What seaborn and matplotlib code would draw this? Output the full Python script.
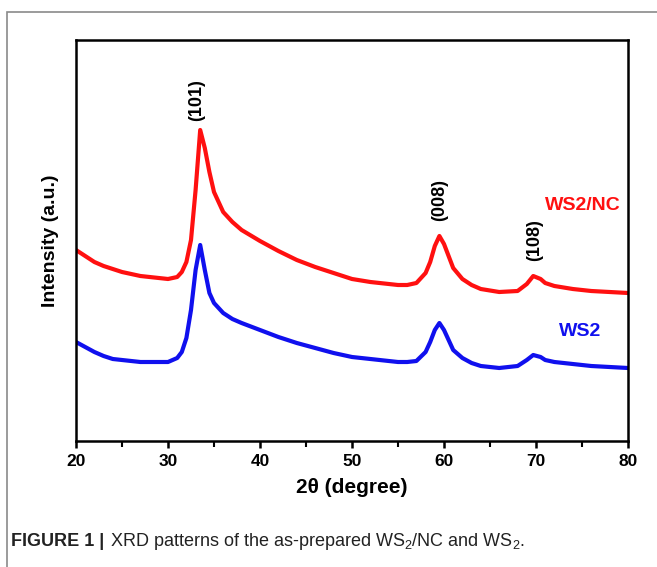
import pandas as pd
import matplotlib.pyplot as plt
import matplotlib.patches as mpatches
from matplotlib.ticker import MultipleLocator
import seaborn as sns

# 2theta positions (degree)
two_theta = [20, 21, 22, 23, 24, 25, 26, 27, 28, 29, 30, 31,
             31.5, 32, 32.5, 33, 33.5, 34, 34.5, 35,
             36, 37, 38,
             40, 42, 44, 46, 48, 50, 52, 54,
             55, 56, 57, 58,
             58.5, 59, 59.5, 60, 60.5, 61,
             62, 63, 64,
             66, 68, 69, 69.7, 70.5, 71, 72,
             74, 76, 78, 80]

# intensities (a.u., offset already included)
ws2_nc = [197, 191, 185, 181, 178, 175, 173, 171, 170, 169, 168, 170,
          175, 185, 207, 257, 317, 299, 275, 255,
          235, 225, 217,
          206, 196, 187, 180, 174, 168, 165, 163,
          162, 162, 164, 174,
          185, 201, 211, 203, 191, 179,
          168, 162, 158,
          155, 156, 163, 171, 168, 164, 161,
          158, 156, 155, 154]

ws2 = [105, 100, 95, 91, 88, 87, 86, 85, 85, 85, 85, 89,
       95, 109, 137, 177, 202, 177, 154, 144,
       134, 128, 124,
       117, 110, 104, 99, 94, 90, 88, 86,
       85, 85, 86, 95,
       105, 117, 124, 117, 107, 97,
       89, 84, 81,
       79, 81, 87, 92, 90, 87, 85,
       83, 81, 80, 79]

peak_labels = ['(101)', '(008)', '(108)']
peak_pos = [33.1, 59.5, 69.8]
peak_label_y = [347, 247, 207]

df = pd.DataFrame({'2theta': two_theta * 2,
                   'Intensity': ws2_nc + ws2,
                   'Sample': ['WS2/NC'] * len(ws2_nc) + ['WS2'] * len(ws2)})

sns.set_style('ticks', {'axes.edgecolor': 'black', 'text.color': 'black',
                        'axes.labelcolor': 'black', 'xtick.color': 'black'})
plt.rcParams['font.family'] = ['Liberation Sans', 'DejaVu Sans']
plt.rcParams['mathtext.fontset'] = 'custom'
plt.rcParams['mathtext.rm'] = 'Liberation Sans'
plt.rcParams['mathtext.bf'] = 'Liberation Sans:bold'

fig = plt.figure(figsize=(6.57, 5.67), dpi=100)
ax = fig.add_axes([76 / 657, 1 - 441 / 567, 552 / 657, 401 / 567])

sns.lineplot(data=df, x='2theta', y='Intensity', hue='Sample',
             palette={'WS2/NC': '#ff1010', 'WS2': '#1010ee'},
             linewidth=3, legend=False, ax=ax)

ax.set_xlim(20, 80)
ax.set_ylim(6, 407)
ax.set_yticks([])
ax.xaxis.set_major_locator(MultipleLocator(10))
ax.xaxis.set_minor_locator(MultipleLocator(5))
ax.tick_params(axis='x', which='major', length=5, width=1.8, labelsize=12.5, pad=4)
ax.tick_params(axis='x', which='minor', length=4, width=1.5)
for lab in ax.get_xticklabels():
    lab.set_fontweight('bold')
for sp in ax.spines.values():
    sp.set_visible(True)
    sp.set_linewidth(1.8)

ax.set_xlabel('2θ (degree)', fontsize=15, fontweight='bold', labelpad=7)
ax.set_ylabel('Intensity (a.u.)', fontsize=14, fontweight='bold', labelpad=12)

for lab, xp, yp in zip(peak_labels, peak_pos, peak_label_y):
    ax.text(xp, yp, lab, rotation=90, ha='center', va='center',
            fontsize=13, fontweight='bold')

ax.text(75.1, 242, 'WS2/NC', color='#ff1010', ha='center', va='center',
        fontsize=14, fontweight='bold')
ax.text(74.8, 115, 'WS2', color='#1010ee', ha='center', va='center',
        fontsize=14, fontweight='bold')

# outer frame of the figure panel
fig.patches.append(mpatches.Rectangle((7 / 657, -0.05), 1.1, 1 - 12 / 567 + 0.05,
                                      transform=fig.transFigure, fill=False,
                                      edgecolor='#8a8a8a', linewidth=1.2))

fig.text(11 / 657, 1 - 542 / 567, 'FIGURE 1 |', fontsize=13, fontweight='bold',
         va='center', color='#222222')
fig.text(110 / 657, 1 - 542 / 567,
         'XRD patterns of the as-prepared WS$_2$/NC and WS$_2$.',
         fontsize=13, va='center', color='#222222')

fig.savefig('out.png', dpi=100)
